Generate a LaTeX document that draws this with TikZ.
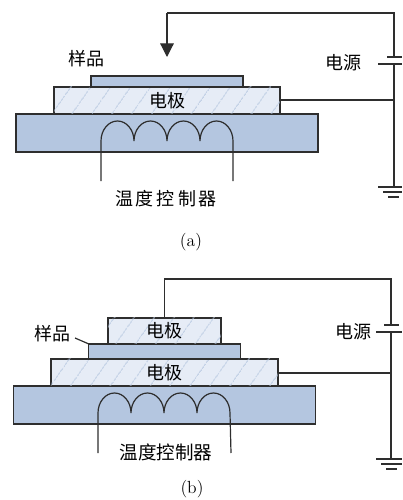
\documentclass[tikz,border=0pt]{standalone}
\usepackage{fontspec}
\setmainfont{Latin Modern Roman}
\newfontfamily\cjkfont{Noto Sans CJK SC}
\usepackage{xcolor}
\usepackage{tikz}
\usetikzlibrary{positioning,arrows.meta,calc,patterns.meta}

\definecolor{basefill}{HTML}{B4C6E0}
\definecolor{elecfill}{HTML}{E6ECF6}
\definecolor{hatchcol}{HTML}{B0C3DE}
\definecolor{wirecol}{HTML}{2E2E2E}

\begin{document}
\begin{tikzpicture}[
    x=0.025cm, y=-0.025cm,
    plate/.style={rectangle, draw=wirecol, line width=0.85pt, outer sep=0pt, inner sep=0pt, fill=basefill},
    electrode/.style={plate, fill=elecfill, postaction={pattern={Lines[angle=55,distance=4.3mm,line width=0.6pt]}, pattern color=hatchcol}},
    lab/.style={font=\fontsize{12.8}{14}\selectfont\cjkfont, text=black, inner sep=0pt},
    ctrllab/.style={lab, font=\fontsize{13.2}{14}\selectfont\cjkfont},
    figlab/.style={font=\fontsize{12.5}{14}\selectfont, text=black, inner sep=0pt},
    wire/.style={line width=0.85pt, color=wirecol},
    arr/.style={wire, -{Triangle[length=3.4mm,width=3.4mm]}},
    node distance=0pt
]
\useasboundingbox (0,0) rectangle (402,500);

% ---------- (a) ----------
\node[plate, minimum width=7.55cm, minimum height=0.95cm] (base_a) at (167,133) {};
\node[electrode, minimum width=5.65cm, minimum height=0.675cm, above=of base_a] (elec_a) {};
\node[plate, minimum width=3.8cm, minimum height=0.275cm, above=of elec_a] (samp_a) {};
\node[lab] (elec_a_lab) at (elec_a.center) {电极};
\node[lab] (samp_a_lab) at (86,59) {样品};
\node[lab] (pow_a_lab) at (343,63) {电源};
\node[lab] (ctrl_a_lab) at (166,199) {温\,度\,控\,制\,器};
\node[figlab] (cap_a) at (191,242) {(a)};

\coordinate (top_a) at (394,13);
\coordinate (tip_a) at (167,57);
\coordinate (plus_a) at (394,57);
\coordinate (minus_a) at (394,64);
\coordinate (gnd_a) at (394,187);
\coordinate (join_a) at (394,100);
\coordinate (coil_a) at (101,141);

\draw[arr] (top_a -| tip_a) -- (tip_a);
\draw[wire] (top_a -| tip_a) -- (top_a) -- (plus_a);
\draw[wire] (387,57) -- (402,57);
\draw[wire] (378,64) -- (402,64);
\draw[wire] (minus_a) -- (gnd_a);
\draw[wire] (elec_a.east |- join_a) -- (join_a);
\draw[wire, line width=1.1pt] (join_a) -- (394,122);
\draw[wire] (378,187) -- (402,187);
\draw[wire] (383,192) -- (402,192);
\draw[wire] (388,197) -- (399,197);
\draw[wire] (101,181) -- (coil_a) arc[start angle=180, end angle=0, x radius=16.5, y radius=-20]
    arc[start angle=180, end angle=0, x radius=16.5, y radius=-20]
    arc[start angle=180, end angle=0, x radius=16.5, y radius=-20]
    arc[start angle=180, end angle=0, x radius=16.5, y radius=-20] -- (233,181);

% ---------- (b) ----------
\node[plate, minimum width=7.55cm, minimum height=0.95cm] (base_b) at (164.5,405) {};
\node[electrode, minimum width=5.675cm, minimum height=0.675cm, above=of base_b] (elec_b) {};
\node[plate, minimum width=3.78cm, minimum height=0.375cm, above=of elec_b] (samp_b) {};
\node[electrode, minimum width=2.825cm, minimum height=0.65cm, above=of samp_b] (upper_b) {};
\node[lab] (elec_b_lab) at (elec_b.center) {电极};
\node[lab] (upper_b_lab) at (upper_b.center) {电极};
\node[lab] (samp_b_lab) at (52,334) {样品};
\node[lab] (pow_b_lab) at (353,332) {电源};
\node[ctrllab] (ctrl_b_lab) at (166,452) {温度控制器};
\node[figlab] (cap_b) at (192,489) {(b)};

\coordinate (top_b) at (391,279);
\coordinate (plus_b) at (391,325);
\coordinate (minus_b) at (391,332);
\coordinate (gnd_b) at (391,459);
\coordinate (join_b) at (391,373);
\coordinate (coil_b) at (98,413);
\coordinate (lead_b) at (75,338);

\draw[wire] (upper_b.north) -- (upper_b.north |- top_b) -- (top_b) -- (plus_b);
\draw[wire] (384,325) -- (399,325);
\draw[wire] (376,332) -- (402,332);
\draw[wire] (minus_b) -- (gnd_b);
\draw[wire] (elec_b.east |- join_b) -- (join_b);
\draw[wire, line width=1.1pt] (join_b) -- (391,394);
\draw[wire] (376,459) -- (402,459);
\draw[wire] (381,464) -- (402,464);
\draw[wire] (386,469) -- (397,469);
\draw[wire] (lead_b) -- (samp_b.north west);
\draw[wire] (98,453) -- (coil_b) arc[start angle=180, end angle=0, x radius=16.5, y radius=-20]
    arc[start angle=180, end angle=0, x radius=16.5, y radius=-20]
    arc[start angle=180, end angle=0, x radius=16.5, y radius=-20]
    arc[start angle=180, end angle=0, x radius=16.5, y radius=-20] -- (231,453);
\end{tikzpicture}
\end{document}
